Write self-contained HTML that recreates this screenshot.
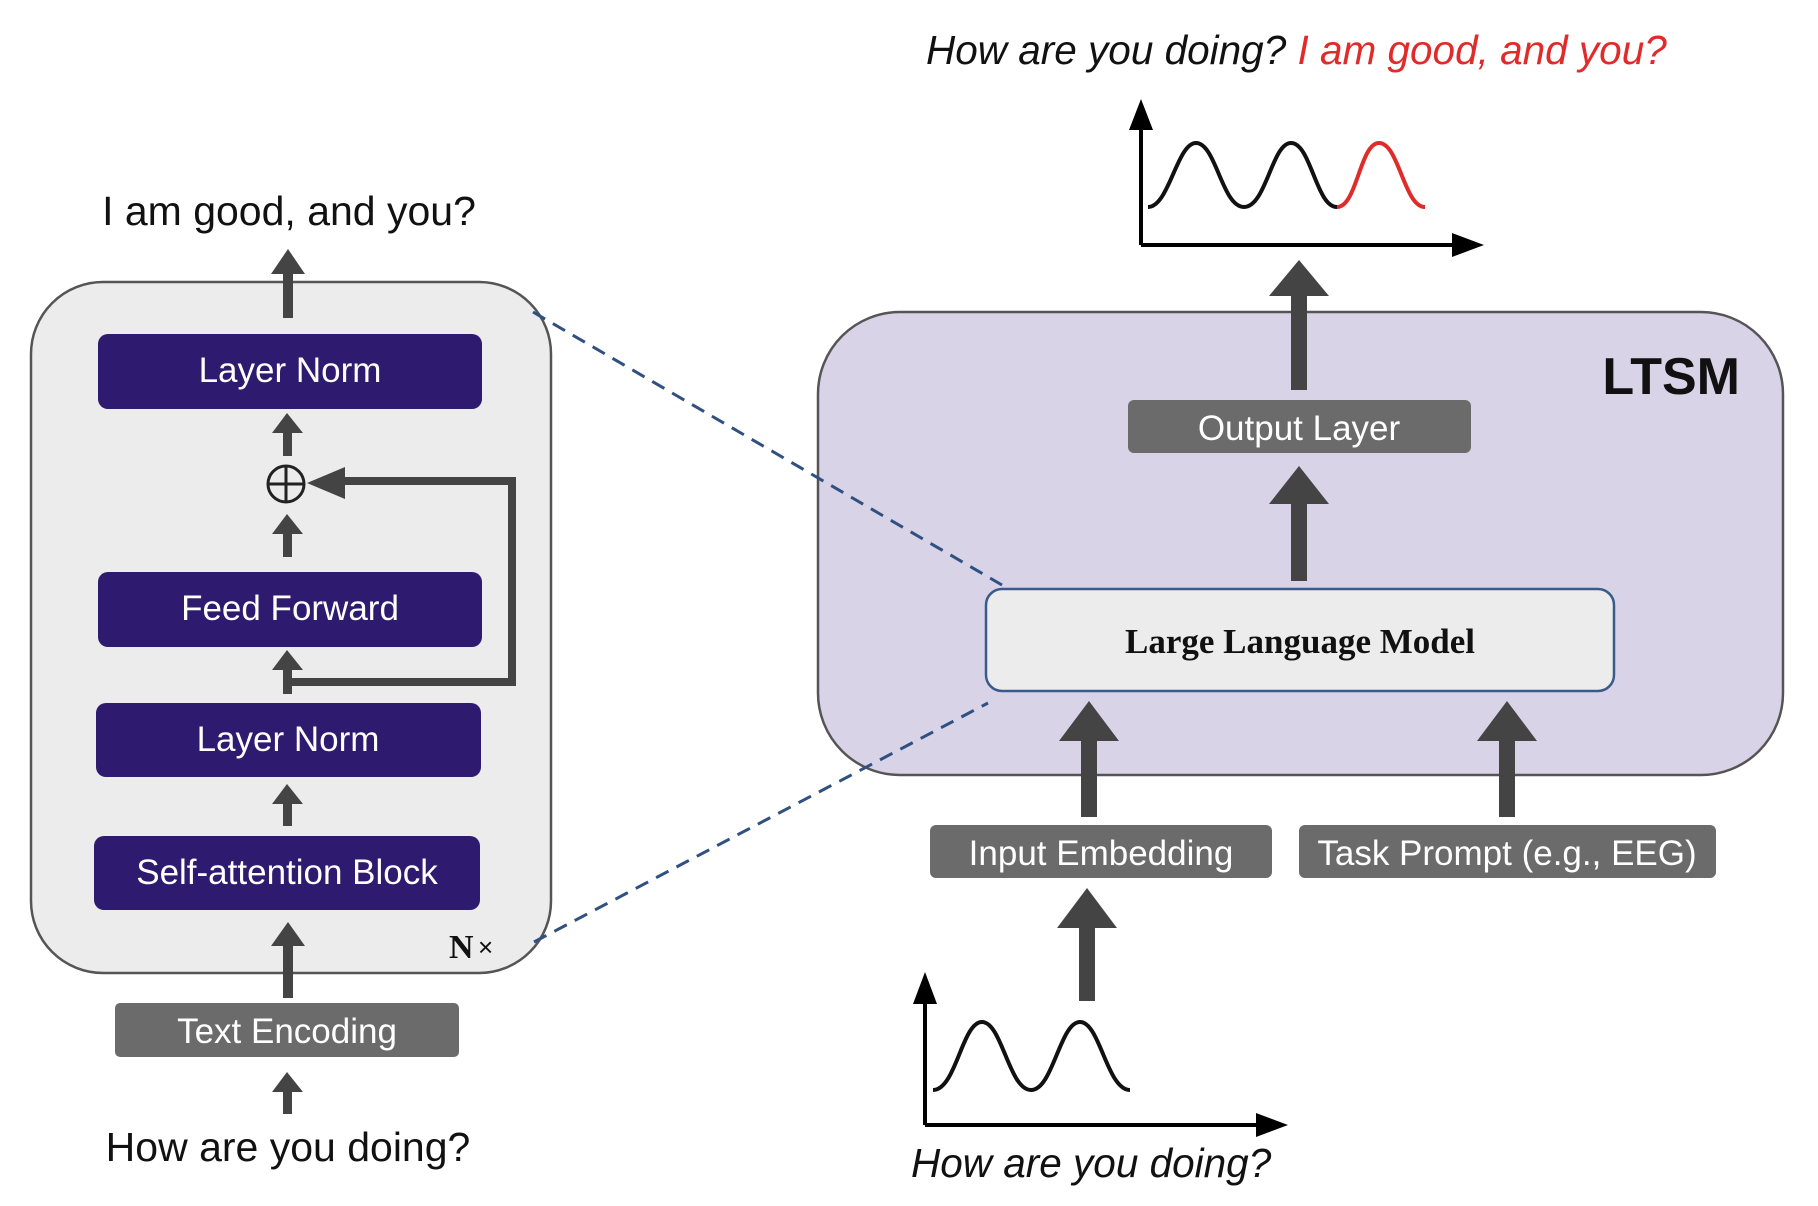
<!DOCTYPE html>
<html><head><meta charset="utf-8"><style>
html,body{margin:0;padding:0;background:#fff;}
svg{display:block;}
text{font-family:"Liberation Sans",sans-serif;}
</style></head><body>
<svg width="1818" height="1206" viewBox="0 0 1818 1206" xmlns="http://www.w3.org/2000/svg">
<!-- Left -->
<text x="289" y="225" font-size="41" text-anchor="middle" fill="#111">I am good, and you?</text>
<rect x="31" y="282" width="520" height="691" rx="72" fill="#ececec" stroke="#555" stroke-width="2.5"/>
<rect x="283" y="272" width="10" height="46" fill="#444"/>
<polygon points="288,249 271,274 305,274" fill="#444"/>
<rect x="98" y="334" width="384" height="75" rx="10" fill="#2e1a6e"/>
<text x="290" y="382" font-size="35" text-anchor="middle" fill="#fff">Layer Norm</text>
<rect x="283" y="432" width="9" height="24" fill="#444"/>
<polygon points="287,413 272,433 303,433" fill="#444"/>
<circle cx="286" cy="484" r="18" fill="none" stroke="#222" stroke-width="3"/>
<line x1="268" y1="484" x2="304" y2="484" stroke="#222" stroke-width="3"/>
<line x1="286" y1="466" x2="286" y2="502" stroke="#222" stroke-width="3"/>
<rect x="283" y="532" width="9" height="25" fill="#444"/>
<polygon points="287,514 272,534 303,534" fill="#444"/>
<polyline points="287,682 512,682 512,481 340,481" fill="none" stroke="#444" stroke-width="8"/>
<polygon points="307,483 345,467 345,499" fill="#444"/>
<rect x="98" y="572" width="384" height="75" rx="10" fill="#2e1a6e"/>
<text x="290" y="620" font-size="35" text-anchor="middle" fill="#fff">Feed Forward</text>
<rect x="283" y="668" width="9" height="26" fill="#444"/>
<polygon points="287,650 272,670 303,670" fill="#444"/>
<rect x="96" y="703" width="385" height="74" rx="10" fill="#2e1a6e"/>
<text x="288" y="751" font-size="35" text-anchor="middle" fill="#fff">Layer Norm</text>
<rect x="283" y="802" width="9" height="24" fill="#444"/>
<polygon points="287,784 272,804 303,804" fill="#444"/>
<rect x="94" y="836" width="386" height="74" rx="10" fill="#2e1a6e"/>
<text x="287" y="884" font-size="35" text-anchor="middle" fill="#fff">Self-attention Block</text>
<rect x="283" y="944" width="10" height="54" fill="#444"/>
<polygon points="288,922 271,946 305,946" fill="#444"/>
<text x="449" y="958" font-size="34" font-weight="bold" style="font-family:'Liberation Serif',serif" fill="#111">N</text>
<text x="478" y="956" font-size="26" fill="#111">×</text>
<rect x="115" y="1003" width="344" height="54" rx="5" fill="#6b6b6b"/>
<text x="287" y="1043" font-size="35" text-anchor="middle" fill="#fff">Text Encoding</text>
<rect x="283" y="1090" width="9" height="24" fill="#444"/>
<polygon points="287,1072 272,1092 303,1092" fill="#444"/>
<text x="288" y="1161" font-size="41" text-anchor="middle" fill="#111">How are you doing?</text>

<!-- Right -->
<g transform="translate(-6,0)">
<text x="932" y="64" font-size="40.5" font-style="italic" fill="#111">How are you doing? <tspan fill="#e02b2b">I am good, and you?</tspan></text>
<line x1="1147" y1="245" x2="1147" y2="122" stroke="#000" stroke-width="4"/>
<polygon points="1147,99 1135,130 1159,130" fill="#000"/>
<line x1="1147" y1="245" x2="1462" y2="245" stroke="#000" stroke-width="4"/>
<polygon points="1490,245 1458,233 1458,257" fill="#000"/>
<path d="M1154,207 C1175,207 1183,143 1202,143 C1222,143 1228,207 1250,207 C1272,207 1278,143 1297,143 C1317,143 1322,207 1343,207" fill="none" stroke="#111" stroke-width="4"/>
<path d="M1343,207 C1363,207 1366,143 1385,143 C1405,143 1410,207 1431,207" fill="none" stroke="#e02b2b" stroke-width="4"/>
<rect x="824" y="312" width="965" height="463" rx="82" fill="#d8d3e6" stroke="#555" stroke-width="2.5"/>
</g>
<line x1="533" y1="312" x2="1002" y2="585" stroke="#2f5080" stroke-width="3" stroke-dasharray="14,9"/>
<line x1="534" y1="942" x2="988" y2="703" stroke="#2f5080" stroke-width="3" stroke-dasharray="14,9"/>
<g transform="translate(-6,0)">
<text x="1746" y="394" font-size="52" font-weight="bold" text-anchor="end" fill="#111">LTSM</text>
<rect x="1297" y="290" width="16" height="100" fill="#444"/>
<polygon points="1305,260 1275,296 1335,296" fill="#444"/>
<rect x="1134" y="400" width="343" height="53" rx="6" fill="#6b6b6b"/>
<text x="1305" y="440" font-size="35" text-anchor="middle" fill="#fff">Output Layer</text>
<rect x="1297" y="500" width="16" height="81" fill="#444"/>
<polygon points="1305,466 1275,504 1335,504" fill="#444"/>
<rect x="992" y="589" width="628" height="102" rx="16" fill="#ececec" stroke="#3a5a8c" stroke-width="2.5"/>
<text x="1306" y="653" font-size="35" font-weight="bold" text-anchor="middle" style="font-family:'Liberation Serif',serif" fill="#111">Large Language Model</text>
<rect x="1087" y="735" width="16" height="82" fill="#444"/>
<polygon points="1095,701 1065,741 1125,741" fill="#444"/>
<rect x="1505" y="735" width="16" height="82" fill="#444"/>
<polygon points="1513,701 1483,741 1543,741" fill="#444"/>
<rect x="936" y="825" width="342" height="53" rx="6" fill="#6b6b6b"/>
<text x="1107" y="865" font-size="35" text-anchor="middle" fill="#fff">Input Embedding</text>
<rect x="1305" y="825" width="417" height="53" rx="6" fill="#6b6b6b"/>
<text x="1513" y="865" font-size="35" text-anchor="middle" fill="#fff">Task Prompt (e.g., EEG)</text>
<rect x="1085" y="922" width="16" height="79" fill="#444"/>
<polygon points="1093,888 1063,928 1123,928" fill="#444"/>
<line x1="931" y1="1125" x2="931" y2="995" stroke="#000" stroke-width="4"/>
<polygon points="931,972 919,1004 943,1004" fill="#000"/>
<line x1="931" y1="1125" x2="1266" y2="1125" stroke="#000" stroke-width="4"/>
<polygon points="1294,1125 1262,1113 1262,1137" fill="#000"/>
<path d="M939,1090 C962,1090 968,1022 988,1022 C1008,1022 1015,1090 1037,1090 C1059,1090 1066,1022 1086,1022 C1106,1022 1113,1090 1136,1090" fill="none" stroke="#111" stroke-width="4"/>
<text x="917" y="1177" font-size="40.5" font-style="italic" fill="#111">How are you doing?</text>
</g>
</svg>
</body></html>
